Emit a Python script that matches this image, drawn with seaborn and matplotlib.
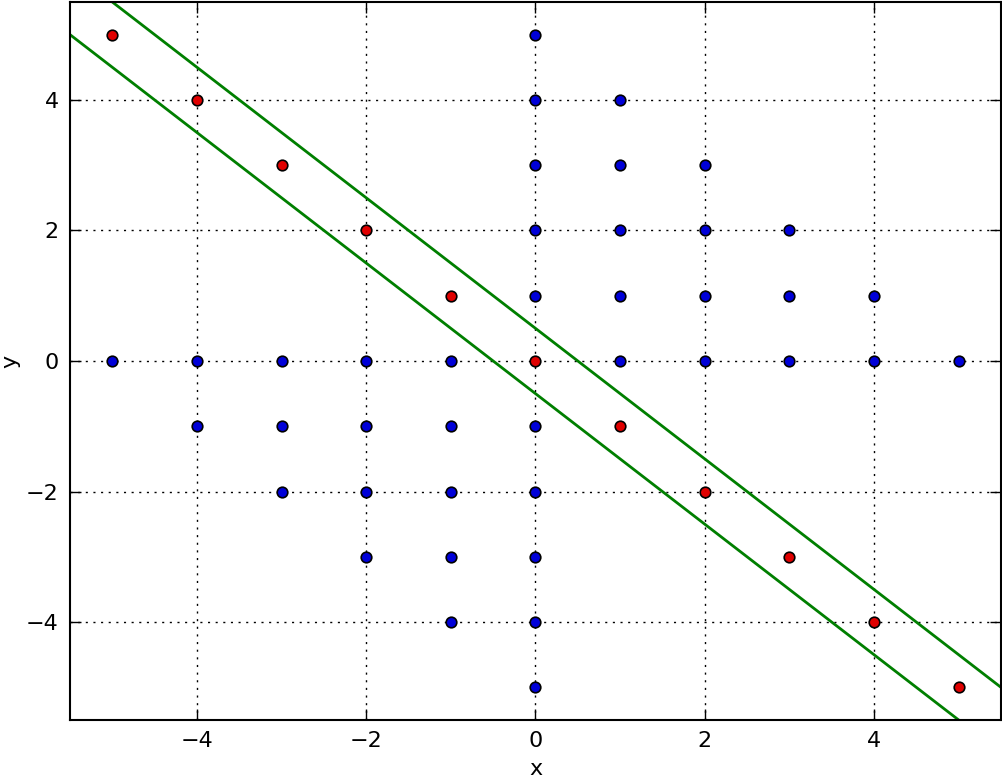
import matplotlib
matplotlib.use("Agg")
import matplotlib.pyplot as plt
import seaborn as sns
import pandas as pd
import numpy as np

blue_x = [-5, -4, -4, -3, -3, -3, -2, -2, -2, -2, -1, -1, -1, -1, -1,
          0, 0, 0, 0, 0, 0, 0, 0, 0, 0,
          1, 1, 1, 1, 1, 2, 2, 2, 2, 3, 3, 3, 4, 4, 5]
blue_y = [0, 0, -1, 0, -1, -2, 0, -1, -2, -3, 0, -1, -2, -3, -4,
          5, 4, 3, 2, 1, -1, -2, -3, -4, -5,
          4, 3, 2, 1, 0, 3, 2, 1, 0, 2, 1, 0, 1, 0, 0]
red_x = [-5, -4, -3, -2, -1, 0, 1, 2, 3, 4, 5]
red_y = [5, 4, 3, 2, 1, 0, -1, -2, -3, -4, -5]
line_x = [-5.5, 5.5]
upper_y = [6.0, -5.0]
lower_y = [5.0, -6.0]

sns.set_style("white")
plt.rcParams['font.family'] = ['DejaVu Sans']
plt.rcParams['text.color'] = 'black'
plt.rcParams['axes.labelcolor'] = 'black'
plt.rcParams['xtick.color'] = 'black'
plt.rcParams['ytick.color'] = 'black'

fig = plt.figure(figsize=(10.03, 7.84), dpi=100)
ax = fig.add_axes([70/1003, 1 - 720/784, 931/1003, 718/784])

df_b = pd.DataFrame({"x": blue_x, "y": blue_y})
df_r = pd.DataFrame({"x": red_x, "y": red_y})
df_u = pd.DataFrame({"x": line_x, "y": upper_y})
df_l = pd.DataFrame({"x": line_x, "y": lower_y})

sns.lineplot(data=df_u, x="x", y="y", color="#007f00", linewidth=2, ax=ax, zorder=2)
sns.lineplot(data=df_l, x="x", y="y", color="#007f00", linewidth=2, ax=ax, zorder=2)
sns.scatterplot(data=df_b, x="x", y="y", color="#0000d8", edgecolor="black",
                linewidth=1.2, s=58, ax=ax, zorder=3)
sns.scatterplot(data=df_r, x="x", y="y", color="#e00000", edgecolor="black",
                linewidth=1.2, s=58, ax=ax, zorder=3)

ax.set_xlim(-5.5, 5.5)
ax.set_ylim(-5.5, 5.5)
ax.set_xticks([-4, -2, 0, 2, 4])
ax.set_yticks([-4, -2, 0, 2, 4])
ax.set_xticklabels(["\u22124", "\u22122", "0", "2", "4"])
ax.set_yticklabels(["\u22124", "\u22122", "0", "2", "4"])
ax.grid(True, color="black", linestyle=(0, (1.5, 4)), linewidth=1.0)
ax.set_axisbelow(True)
for sp in ax.spines.values():
    sp.set_visible(True)
    sp.set_color("black")
    sp.set_linewidth(1.5)
ax.tick_params(direction="in", length=8, width=1, labelsize=16, pad=8,
               top=True, right=True, bottom=True, left=True)
ax.set_xlabel("x", fontsize=16, labelpad=6)
ax.set_ylabel("y", fontsize=16, labelpad=4)

fig.savefig("out.png", dpi=100)
